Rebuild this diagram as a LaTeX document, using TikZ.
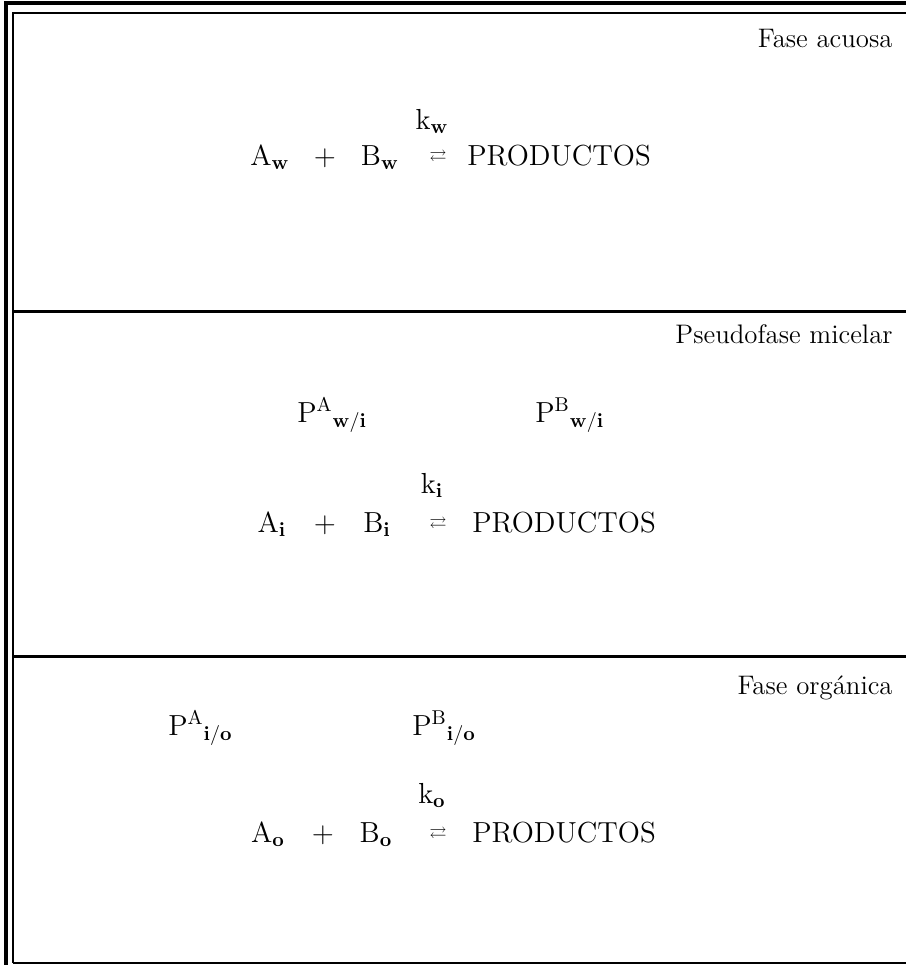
\documentclass[tikz,border=0pt]{standalone}
\usepackage{amssymb}
\usepackage{tikz}

\begin{document}
\begin{tikzpicture}[x=0.5pt, y=-0.5pt,
    % Styles
    phase/.style={anchor=base east, inner sep=0pt, font=\fontsize{13.4}{16}\selectfont},
    term/.style={anchor=base, inner sep=0pt, font=\fontsize{14.5}{17}\selectfont},
    prod/.style={anchor=base west, inner sep=0pt, font=\fontsize{14.5}{17}\selectfont},
    partition/.style={anchor=base west, inner sep=0pt, font=\fontsize{14.5}{17}\selectfont},
    eqarrow/.style={inner sep=0pt, font=\fontsize{8.5}{10}\selectfont},
    outerline/.style={line width=2pt},
    innerline/.style={line width=1.3pt},
    divider/.style={line width=1.5pt}
]
    \useasboundingbox (0,0) rectangle (906,965);

    % --- Frame ---
    \draw[outerline] (6,965) -- (6,3) -- (906,3);
    \draw[innerline] (13,963) -- (13,13) -- (906,13);
    \draw[divider] (13,311) -- (906,311);
    \draw[divider] (13,656) -- (906,656);
    \draw[line width=1pt] (13,963) -- (906,963);

    % --- Fase acuosa ---
    \node[phase] (phw) at (893,47) {Fase acuosa};
    \node[term] (kw) at (432,129) {k$_{\mathbf{w}}$};
    \node[term] (aw) at (270,165) {A$_{\mathbf{w}}$};
    \node[term] (plw) at (325,165) {+};
    \node[term] (bw) at (380,165) {B$_{\mathbf{w}}$};
    \node[eqarrow] (eqw) at (438,157) {$\rightleftarrows$};
    \node[prod] (prw) at (467,165) {PRODUCTOS};

    % --- Pseudofase micelar ---
    \node[phase] (phi) at (893,343) {Pseudofase micelar};
    \node[partition] (pawi) at (297,422) {P$^{\mathrm{A}}{}_{\mathbf{w/i}}$};
    \node[partition] (pbwi) at (535,422) {P$^{\mathrm{B}}{}_{\mathbf{w/i}}$};
    \node[term] (ki) at (432,493) {k$_{\mathbf{i}}$};
    \node[term] (ai) at (272,532) {A$_{\mathbf{i}}$};
    \node[term] (pli) at (325,532) {+};
    \node[term] (bi) at (377,532) {B$_{\mathbf{i}}$};
    \node[eqarrow] (eqi) at (438,524) {$\rightleftarrows$};
    \node[prod] (pri) at (472,532) {PRODUCTOS};

    % --- Fase organica ---
    \node[phase] (pho) at (893,694) {Fase orgánica};
    \node[partition] (paio) at (168,735) {P$^{\mathrm{A}}{}_{\mathbf{i/o}}$};
    \node[partition] (pbio) at (412,735) {P$^{\mathrm{B}}{}_{\mathbf{i/o}}$};
    \node[term] (ko) at (432,803) {k$_{\mathbf{o}}$};
    \node[term] (ao) at (268,842) {A$_{\mathbf{o}}$};
    \node[term] (plo) at (323,842) {+};
    \node[term] (bo) at (376,842) {B$_{\mathbf{o}}$};
    \node[eqarrow] (eqo) at (438,834) {$\rightleftarrows$};
    \node[prod] (pro) at (472,842) {PRODUCTOS};

\end{tikzpicture}
\end{document}
